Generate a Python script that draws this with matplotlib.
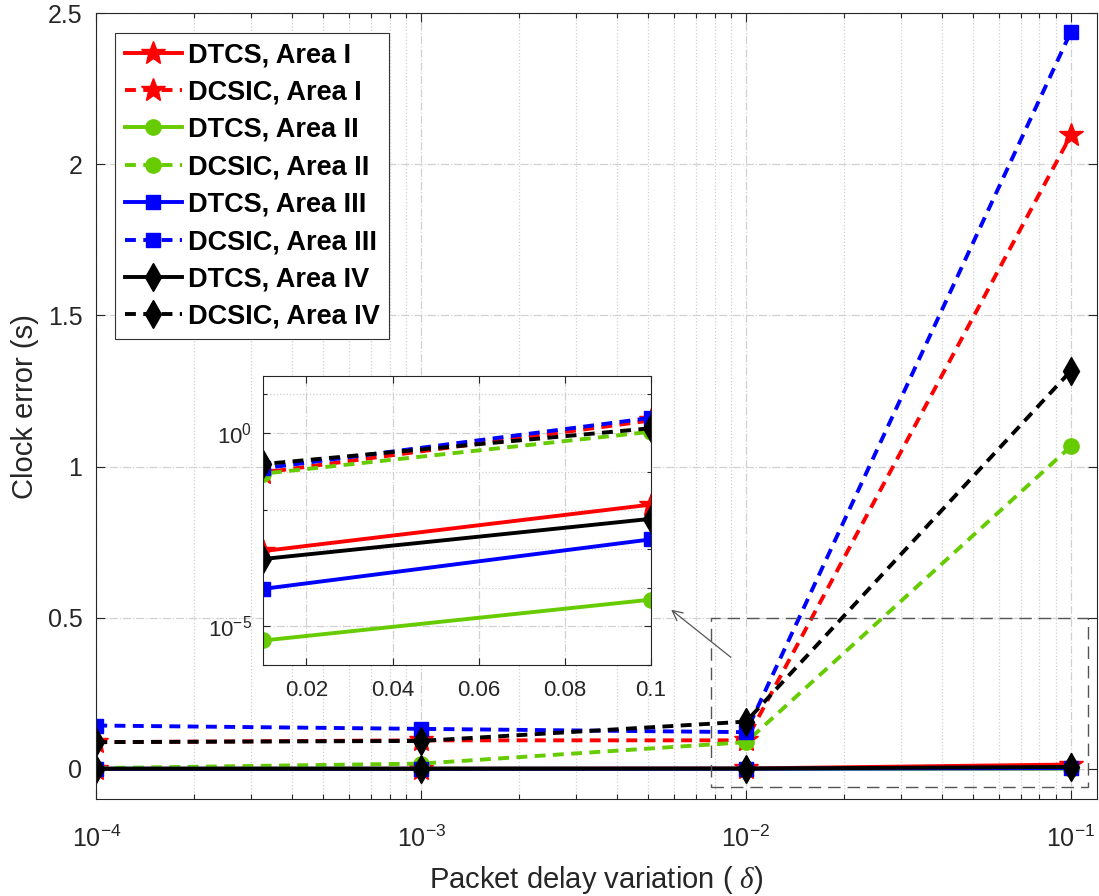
import numpy as np
import matplotlib
matplotlib.use('Agg')
import matplotlib.pyplot as plt
from matplotlib.ticker import FixedLocator, FormatStrFormatter, LogLocator, NullFormatter
from matplotlib.patches import Rectangle

plt.rcParams['font.family'] = ['Liberation Sans', 'DejaVu Sans']
plt.rcParams['mathtext.fontset'] = 'custom'
plt.rcParams['mathtext.rm'] = 'Liberation Sans'
plt.rcParams['mathtext.it'] = 'Liberation Serif:italic'

# packet delay variation
delta = [1e-4, 1e-3, 1e-2, 1e-1]

# clock error (s)
dtcs_1 = [2e-5, 1.5e-4, 8.8e-4, 0.014]
dcsic_1 = [0.088, 0.094, 0.094, 2.097]
dtcs_2 = [5e-8, 4e-7, 4.3e-6, 4.9e-5]
dcsic_2 = [0.002, 0.017, 0.088, 1.067]
dtcs_3 = [1e-6, 1e-5, 9.3e-5, 1.77e-3]
dcsic_3 = [0.143, 0.132, 0.121, 2.439]
dtcs_4 = [1e-5, 6e-5, 5.5e-4, 6.0e-3]
dcsic_4 = [0.088, 0.092, 0.156, 1.317]

labels = ['DTCS, Area I', 'DCSIC, Area I', 'DTCS, Area II', 'DCSIC, Area II',
          'DTCS, Area III', 'DCSIC, Area III', 'DTCS, Area IV', 'DCSIC, Area IV']
series = [dtcs_1, dcsic_1, dtcs_2, dcsic_2, dtcs_3, dcsic_3, dtcs_4, dcsic_4]

green = '#66cc00'
styles = [
    dict(color='red', ls='-', marker='*', ms=18),
    dict(color='red', ls='--', marker='*', ms=18),
    dict(color=green, ls='-', marker='o', ms=11),
    dict(color=green, ls='--', marker='o', ms=11),
    dict(color='blue', ls='-', marker='s', ms=9.5),
    dict(color='blue', ls='--', marker='s', ms=9.5),
    dict(color='black', ls='-', marker='d', ms=14),
    dict(color='black', ls='--', marker='d', ms=14),
]

axcol = '#262626'
gridcol = '#d0d0d0'


def draw(ax):
    for y, st, lab in zip(series, styles, labels):
        ln, = ax.plot(delta, y, color=st['color'], ls=st['ls'], lw=2.8,
                      marker=st['marker'], ms=st['ms'], mfc=st['color'],
                      mec=st['color'], label=lab)
        if st['ls'] == '--':
            ln.set_dashes((2.8, 1.9))


fig = plt.figure(figsize=(10.99, 8.96), dpi=100)
ax = fig.add_axes([0.0876, 0.1083, 0.9103, 0.8769])
draw(ax)
ax.set_xscale('log')
ax.set_xlim(1e-4, 0.12)
ax.set_ylim(-0.1, 2.5)
ax.set_yticks([0, 0.5, 1, 1.5, 2, 2.5])
ax.yaxis.set_major_formatter(FormatStrFormatter('%g'))
ax.xaxis.set_major_locator(LogLocator(base=10, numticks=10))
ax.xaxis.set_minor_locator(LogLocator(base=10, subs=np.arange(2, 10), numticks=20))
ax.xaxis.set_minor_formatter(NullFormatter())
ax.grid(True, which='major', ls='-.', color=gridcol, lw=0.9)
ax.grid(True, which='minor', axis='x', ls=':', color=gridcol, lw=0.9)
ax.tick_params(which='both', direction='in', top=True, right=True, colors=axcol,
               labelsize=18, width=0.8)
ax.tick_params(which='major', length=6.5)
ax.tick_params(axis='y', which='major', pad=10)
ax.tick_params(axis='x', which='major', pad=19)
ax.tick_params(which='minor', length=3.5)
for s in ax.spines.values():
    s.set_color(axcol)
    s.set_linewidth(0.8)
ax.set_xlabel('Packet delay variation ( $\\delta$)', fontsize=21, color=axcol, labelpad=9)
ax.set_ylabel('Clock error (s)', fontsize=21, color=axcol, labelpad=6)

leg = ax.legend(loc='upper left', bbox_to_anchor=(0.019, 0.9753), borderaxespad=0,
                prop={'weight': 'bold', 'size': 19.5}, handlelength=2.1,
                handletextpad=0.22, borderpad=0.35, labelspacing=0.42,
                fancybox=False, framealpha=1, numpoints=1)
leg.get_frame().set_edgecolor('#333333')
leg.get_frame().set_linewidth(0.8)

# zoom box
ax.add_patch(Rectangle((0.0078, -0.06), 0.113 - 0.0078, 0.56, fill=False,
                       ec='#555555', lw=1.0, ls=(0, (9, 5)), zorder=5))

# arrow to inset
ax.annotate('', xy=(669, 896 - 608), xycoords='figure pixels',
            xytext=(733, 896 - 659), textcoords='figure pixels',
            arrowprops=dict(arrowstyle='->', color='#555555', lw=0.9,
                            mutation_scale=18))

# inset
ins = fig.add_axes([0.2396, 0.2578, 0.3528, 0.3229])
draw(ins)
ins.set_yscale('log')
ins.set_xlim(0.01, 0.1)
ins.set_ylim(1e-6, 30)
ins.set_xticks([0.02, 0.04, 0.06, 0.08, 0.1])
ins.xaxis.set_major_formatter(FormatStrFormatter('%g'))
ins.yaxis.set_major_locator(FixedLocator([1e-5, 1e0]))
ins.yaxis.set_minor_locator(FixedLocator([1e-6, 1e-4, 1e-3, 1e-2, 1e-1, 1e1]))
ins.yaxis.set_minor_formatter(NullFormatter())
ins.grid(True, which='major', ls='-.', color=gridcol, lw=0.9)
ins.grid(True, which='minor', axis='y', ls=':', color=gridcol, lw=0.9)
ins.tick_params(which='both', direction='in', top=True, right=True, colors=axcol,
                labelsize=16, width=0.8)
ins.tick_params(which='major', length=5)
ins.tick_params(axis='x', which='major', pad=11)
ins.tick_params(axis='y', which='major', pad=8)
ins.tick_params(which='minor', length=3)
for s in ins.spines.values():
    s.set_color(axcol)
    s.set_linewidth(0.8)

fig.savefig('out.png', dpi=100)
